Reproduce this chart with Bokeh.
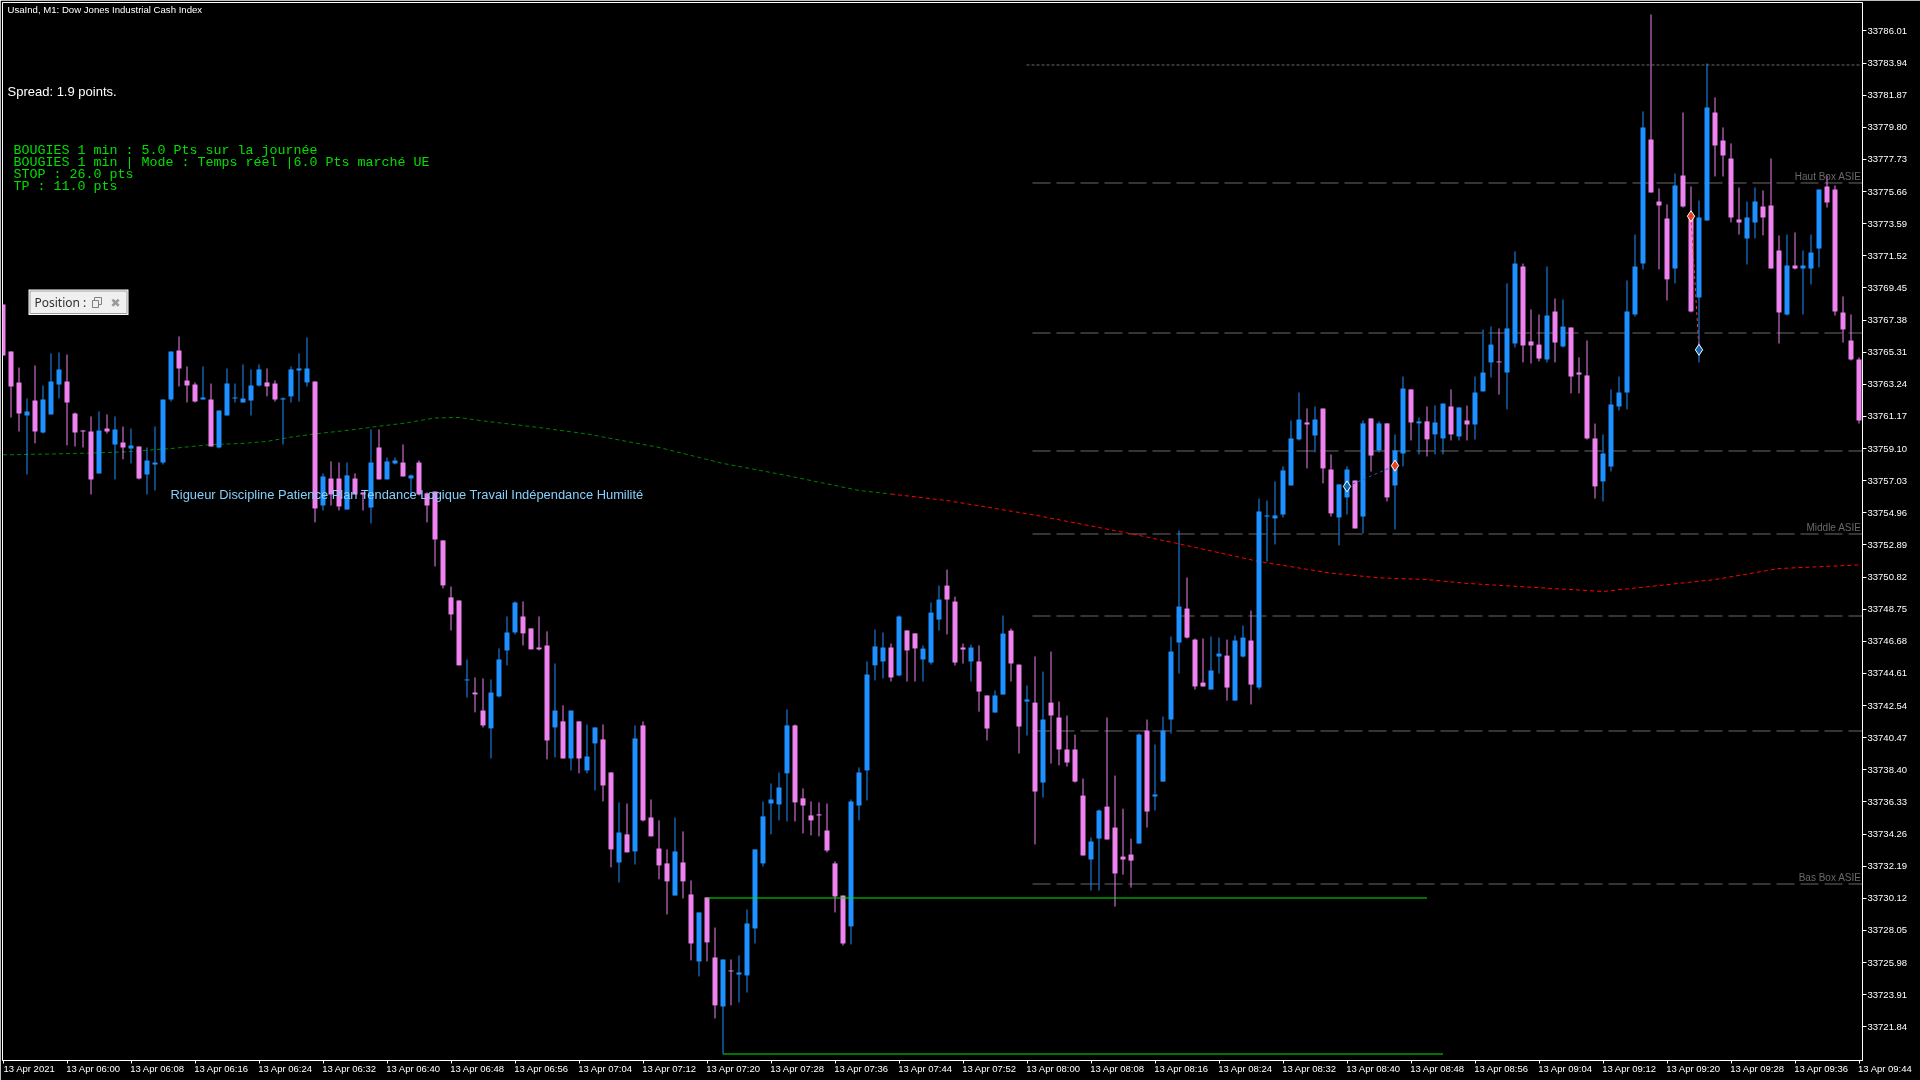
from bokeh.embed import file_html
from bokeh.resources import INLINE
from bokeh.models import Range1d, LinearAxis, FixedTicker, NumeralTickFormatter, ColumnDataSource
from bokeh.plotting import figure
from bokeh.core.properties import value
import numpy as np

PRICE_BASE = 33720.0

# Candle values in points above PRICE_BASE, one minute per candle
high = [48.38,45.36,44.32,42.33,44.45,43.16,45.23,45.29,45.16,41.42,
40.27,41.17,41.49,41.30,41.17,40.52,40.39,39.23,39.17,40.52,
42.26,45.36,46.32,44.39,43.36,44.39,43.29,41.55,44.26,43.29,
44.52,44.20,44.52,44.26,43.49,42.39,44.39,45.23,46.26,43.42,
37.50,38.27,38.20,38.20,37.50,36.27,40.33,40.33,38.52,38.52,
39.36,37.43,38.33,36.27,36.33,33.18,30.21,29.31,25.51,24.35,
24.29,24.22,26.22,28.28,29.25,29.25,27.51,28.28,27.32,25.25,
22.55,22.22,21.52,21.32,21.13,21.32,18.23,16.30,16.23,21.26,
21.52,16.49,15.14,13.27,15.33,14.43,11.27,9.21,10.18,8.24,
6.18,6.18,6.44,9.40,13.27,16.36,17.52,18.23,22.29,21.32,
17.20,16.36,16.30,16.23,12.50,10.30,16.49,18.55,25.38,27.44,
27.25,26.54,28.35,27.38,27.19,26.41,29.18,30.27,31.30,29.56,
26.54,26.47,26.41,23.19,23.51,28.34,27.50,25.18,23.83,25.70,
24.73,26.02,22.80,21.90,20.67,17.84,14.04,15.84,21.77,18.03,
15.90,13.97,20.74,21.64,20.03,21.83,26.99,33.82,30.79,26.86,
26.86,26.99,26.92,26.79,27.05,27.70,28.66,35.88,35.75,36.98,
37.95,40.91,42.71,41.68,41.81,41.68,38.72,36.79,37.95,37.04,
40.91,41.04,40.85,40.72,40.01,43.74,42.91,41.10,41.81,41.88,
42.00,42.91,41.75,41.87,43.74,46.77,46.96,46.84,49.74,51.80,
51.02,48.06,47.74,50.83,48.77,48.70,46.90,44.97,46.06,40.71,
40.01,42.91,43.74,49.93,52.89,60.82,67.07,55.86,54.83,56.82,
60.75,55.99,55.08,63.91,61.72,59.79,58.76,55.92,55.02,55.92,
55.73,57.79,52.83,52.89,53.02,51.86,52.89,55.79,56.69,56.05,
48.90,47.74,44.97]

low = [45.10,41.10,40.20,37.43,39.43,40.07,41.30,42.33,39.30,39.23,
39.17,36.14,37.50,40.07,37.11,38.40,38.14,37.11,36.14,36.40,
38.07,42.13,43.10,42.07,42.07,42.26,39.23,39.11,41.23,42.07,
42.07,41.23,43.10,42.46,42.13,39.36,42.07,42.13,43.10,34.34,
35.11,35.43,35.11,35.17,36.14,35.11,34.27,37.11,37.11,38.07,
37.30,36.08,36.08,34.34,31.50,30.09,27.38,25.13,23.06,22.10,
21.13,19.13,23.06,25.13,27.12,26.41,26.16,26.09,19.07,19.20,
19.13,18.36,18.17,18.17,17.07,16.36,12.11,11.14,13.08,12.30,
15.07,14.11,11.34,9.08,10.30,10.11,6.12,5.09,6.05,2.38,
0.10,3.22,3.41,4.05,7.21,12.17,14.24,15.14,15.07,15.07,
14.30,14.17,14.11,13.08,9.21,7.08,7.15,15.14,16.43,24.16,
24.29,24.09,24.42,24.09,24.09,24.09,25.18,27.37,27.12,25.12,
25.25,24.09,22.15,20.29,22.09,23.25,24.09,19.45,20.61,13.59,
16.61,18.80,18.68,18.61,17.58,12.88,10.62,10.62,13.91,9.59,
11.65,10.81,13.65,14.68,15.78,17.64,20.74,24.60,26.86,23.57,
23.77,23.57,24.60,22.86,22.86,25.63,22.61,23.57,31.82,32.92,
34.66,36.72,39.62,37.82,38.85,36.85,34.72,32.86,34.85,33.95,
33.63,37.62,38.85,35.69,33.89,37.95,39.62,38.72,38.59,38.72,
38.72,39.62,39.62,39.62,39.68,42.78,43.68,42.58,41.62,45.61,
44.65,44.58,44.71,44.65,44.65,45.61,42.65,42.65,39.68,35.88,
35.69,37.62,41.55,41.62,47.61,50.64,55.60,50.64,48.64,49.74,
54.63,47.87,44.65,53.79,56.63,56.63,53.67,52.89,50.96,52.64,
52.83,50.70,45.87,47.67,50.64,47.74,49.67,50.77,54.63,47.67,
45.93,44.77,40.71]

open_ = [48.38,45.36,43.36,41.23,42.20,40.14,41.30,43.23,43.42,41.36,
40.27,40.20,37.50,40.39,39.36,39.49,39.11,39.23,37.43,38.07,
38.20,42.26,45.42,43.49,43.23,42.26,42.26,39.17,41.23,42.33,
42.07,42.20,43.16,43.36,43.29,42.26,42.46,44.13,43.36,43.42,
35.43,37.17,37.17,35.17,37.17,36.27,35.30,39.17,37.11,38.14,
38.20,37.17,38.20,36.21,36.33,33.18,29.51,29.31,24.16,23.38,
22.22,21.07,23.13,26.09,27.25,28.28,27.51,26.28,26.41,21.13,
21.52,19.13,21.52,18.36,20.10,20.36,18.23,12.43,14.24,13.14,
21.26,15.33,13.33,12.37,10.30,12.43,10.37,6.05,10.18,6.31,
3.15,5.47,5.21,5.15,8.18,12.37,16.23,16.17,18.17,21.26,
16.56,15.46,15.53,14.49,12.37,10.30,8.31,16.10,18.36,25.13,
25.38,26.28,24.48,27.38,27.19,25.51,25.31,28.08,30.27,29.24,
26.28,25.38,25.38,23.19,22.09,23.25,27.37,25.18,22.80,22.73,
17.58,22.73,21.77,19.71,19.71,16.74,12.62,13.97,16.03,14.68,
12.81,12.94,13.65,20.93,16.68,17.64,21.64,26.60,28.79,26.79,
24.02,23.57,25.70,25.76,22.86,25.70,26.73,23.70,34.72,34.60,
34.85,36.72,39.69,40.78,39.94,41.68,37.75,34.66,35.95,37.04,
34.72,41.04,38.98,40.72,36.72,38.78,42.91,40.72,40.85,40.01,
39.75,41.81,39.88,40.91,40.65,42.78,44.65,44.71,44.00,45.87,
50.83,46.00,45.80,44.84,47.93,45.68,46.90,44.00,43.81,39.75,
36.98,37.94,41.81,42.71,47.74,51.02,59.01,55.02,53.92,50.70,
56.69,54.12,48.83,53.79,60.75,58.95,57.79,53.86,52.64,53.67,
54.70,54.76,51.86,47.74,50.90,50.70,50.70,51.99,55.99,55.79,
47.87,46.06,44.84]

close = [45.10,43.10,41.36,41.49,40.20,42.26,43.42,44.20,42.07,40.14,
40.20,37.11,40.27,40.20,40.33,39.17,39.30,37.17,38.33,38.20,
42.26,45.36,44.26,43.16,42.13,42.39,39.23,41.55,43.29,42.39,
42.33,43.16,44.20,43.10,42.26,42.33,44.20,44.26,44.26,35.24,
37.30,36.14,35.37,37.37,36.14,36.14,38.20,37.11,38.27,38.33,
37.30,37.37,36.14,35.43,33.24,30.28,28.41,25.13,24.22,23.26,
21.26,23.38,25.51,27.25,29.18,27.19,26.16,26.16,20.29,22.22,
19.13,22.22,19.13,19.26,21.13,17.39,13.27,14.36,13.08,20.42,
15.14,14.11,12.24,11.21,13.14,11.21,7.21,9.21,7.28,3.22,
6.18,5.41,5.34,8.50,13.27,15.40,16.49,17.26,21.26,16.30,
16.10,15.14,15.46,13.20,10.24,7.21,16.36,18.23,24.54,26.35,
26.28,24.35,28.28,26.09,26.22,26.21,28.53,29.37,29.37,25.31,
26.15,26.28,23.44,21.06,23.19,27.18,25.25,21.19,22.93,17.00,
21.64,21.90,19.71,18.87,17.64,12.88,13.78,15.78,13.91,11.72,
12.62,12.55,20.67,15.71,16.81,20.93,26.02,28.92,26.92,23.77,
23.77,24.80,25.89,23.70,26.73,26.92,23.89,35.05,34.79,34.79,
37.69,39.75,40.97,40.65,40.97,37.82,34.92,36.79,37.75,33.95,
40.72,38.65,40.72,35.95,38.98,42.97,40.78,40.85,39.69,40.78,
42.00,40.01,41.75,40.65,42.71,44.00,45.80,44.65,46.84,51.02,
45.74,45.74,44.90,47.67,45.93,46.96,43.74,43.87,39.75,36.66,
38.78,41.94,42.71,47.93,50.83,59.79,55.60,54.76,50.00,56.05,
54.70,47.93,53.99,61.08,58.63,57.98,53.99,53.67,53.99,55.02,
53.99,50.70,47.87,50.90,50.70,50.90,51.73,55.79,54.95,47.93,
46.77,44.84,40.91]

# Moving average readings: candle index and points above base
ma_up_idx = [0,1,6,11,15,21,26,30,33,36,39,44,47,50,54,57,60,66,73,82,90,98,107,111]
ma_up_val = [38.70,38.70,38.75,38.81,38.88,39.10,39.36,39.43,39.56,39.84,40.04,40.33,40.54,40.72,41.07,41.10,40.88,40.52,40.04,39.17,38.14,37.36,36.40,36.17]
ma_dn_idx = [111,118,129,141,147,157,166,172,178,183,200,214,222,232]
ma_dn_val = [36.17,35.75,34.81,33.61,32.96,31.82,31.07,30.77,30.66,30.41,29.89,30.66,31.37,31.60]

# Horizontal levels in points above base
level_dotted = 63.813
levels_dashed = [56.210,46.545,38.942,33.594,28.310,20.901,11.042]
level_labels = ["Haut Box ASIE","Middle ASIE","Bas Box ASIE"]
level_label_vals = [56.21,33.594,11.042]
green_levels = [10.140,0.088]
green_start = [88,90]
green_end = [178,180]

# Closed trades: candle index and points above base
trade_a_idx = [211,212]
trade_a_val = [54.07,45.46]
trade_b_idx = [168,174]
trade_b_val = [36.66,38.00]

price_ticks = [33786.01,33783.94,33781.87,33779.80,33777.73,33775.66,33773.59,33771.52,33769.45,33767.38,
33765.31,33763.24,33761.17,33759.10,33757.03,33754.96,33752.89,33750.82,33748.75,33746.68,33744.61,
33742.54,33740.47,33738.40,33736.33,33734.26,33732.19,33730.12,33728.05,33725.98,33723.91,33721.84]
time_labels = ["13 Apr 2021","13 Apr 06:00","13 Apr 06:08","13 Apr 06:16","13 Apr 06:24","13 Apr 06:32","13 Apr 06:40",
"13 Apr 06:48","13 Apr 06:56","13 Apr 07:04","13 Apr 07:12","13 Apr 07:20","13 Apr 07:28","13 Apr 07:36","13 Apr 07:44",
"13 Apr 07:52","13 Apr 08:00","13 Apr 08:08","13 Apr 08:16","13 Apr 08:24","13 Apr 08:32","13 Apr 08:40","13 Apr 08:48",
"13 Apr 08:56","13 Apr 09:04","13 Apr 09:12","13 Apr 09:20","13 Apr 09:28","13 Apr 09:36","13 Apr 09:44"]

BLUE = "#1E90FF"
PINK = "#EE82EE"
GREY = "#696969"
LIME = "#00E600"

FRAME_W, FRAME_H = 1860, 1058
X0, X1 = -0.0625, 232.4375   # candle index at left / right frame edge
Y1, Y0 = 33787.84, 33719.67  # price at top / bottom frame edge

def px_x(px):  # overlay helper: page pixel -> candle index
    return X0 + (px - 2) * (X1 - X0) / FRAME_W

def px_y(py):  # overlay helper: page pixel -> price
    return Y1 - (py - 2) * (Y1 - Y0) / FRAME_H

p = figure(frame_width=FRAME_W, frame_height=FRAME_H, output_backend="svg", toolbar_location=None,
           x_range=Range1d(X0, X1), y_range=Range1d(Y0, Y1),
           x_axis_location=None, y_axis_location=None,
           min_border_left=2, min_border_top=2, min_border_right=58, min_border_bottom=20,
           background_fill_color="black", border_fill_color="black",
           outline_line_color="white", outline_line_width=1)
p.grid.visible = False
p.styles = {"position": "fixed", "left": "0px", "top": "0px"}

AXIS_FONT = "Liberation Sans"
yaxis = LinearAxis(ticker=FixedTicker(ticks=price_ticks), formatter=NumeralTickFormatter(format="0.00"),
                   axis_line_color="white", major_tick_line_color="white", major_tick_out=4, major_tick_in=0,
                   minor_tick_line_color=None, major_label_text_color="white", major_label_text_font=AXIS_FONT,
                   major_label_text_font_size="9.5px", major_label_standoff=1)
p.add_layout(yaxis, "right")

tick_idx = list(range(0, 233, 8))
xaxis = LinearAxis(ticker=FixedTicker(ticks=tick_idx), axis_line_color="white", major_tick_line_color="white",
                   major_tick_out=3, major_tick_in=0, minor_tick_line_color=None,
                   major_label_overrides={i: "" for i in tick_idx},
                   major_label_text_font_size="1px", major_label_standoff=0)
p.add_layout(xaxis, "below")

# Time labels start at their tick: an axis on a range shifted by half a label.
# The last label would fall past the frame, so it hangs on the last tick the shifted range
# still holds and is pushed right with non-breaking spaces.
LABEL_SHIFT = 3.3
p.extra_x_ranges = {"labels": Range1d(X0 - LABEL_SHIFT, X1 - LABEL_SHIFT)}
label_ticks = tick_idx[:-1] + [229]
label_texts = time_labels[:-1] + ["\u00a0" * 18 + time_labels[-1]]
xlabels = LinearAxis(x_range_name="labels", ticker=FixedTicker(ticks=label_ticks),
                     major_label_overrides=dict(zip(label_ticks, label_texts)),
                     axis_line_color=None, major_tick_line_color=None, minor_tick_line_color=None,
                     major_label_text_color="white", major_label_text_font=AXIS_FONT,
                     major_label_text_font_size="9.5px", major_label_standoff=-7)
p.add_layout(xlabels, "below")

idx = np.arange(len(high))
h = PRICE_BASE + np.array(high)
l = PRICE_BASE + np.array(low)
o = PRICE_BASE + np.array(open_)
c = PRICE_BASE + np.array(close)
up = c >= o
colors = [BLUE if u else PINK for u in up]
src = ColumnDataSource(dict(x=idx, h=h, l=l, top=np.maximum(o, c), bottom=np.minimum(o, c), color=colors))

# Grey levels, under the candles
p.segment(x0=px_x(1026), x1=X1, y0=PRICE_BASE + level_dotted, y1=PRICE_BASE + level_dotted,
          line_color=GREY, line_width=1, line_dash="3 2")
lev = PRICE_BASE + np.array(levels_dashed)
p.segment(x0=[px_x(1032)] * len(lev), x1=[X1] * len(lev), y0=lev, y1=lev,
          line_color=GREY, line_width=1, line_dash="18 6")

# Moving average
p.line(np.array(ma_up_idx), PRICE_BASE + np.array(ma_up_val), line_color="#008000", line_width=1, line_dash="4 3")
p.line(np.array(ma_dn_idx), PRICE_BASE + np.array(ma_dn_val), line_color="#FF0000", line_width=1, line_dash="4 3")

# Candles
p.segment(x0="x", x1="x", y0="l", y1="h", line_color="color", line_width=1, source=src)
p.vbar(x="x", width=5 / 8, top="top", bottom="bottom", fill_color="color", line_color=None, source=src)

# Green levels
for y_, s_, e_ in zip(green_levels, green_start, green_end):
    p.segment(x0=s_, x1=e_, y0=PRICE_BASE + y_, y1=PRICE_BASE + y_, line_color=LIME, line_width=1)

# Trades
p.line(np.array(trade_a_idx), PRICE_BASE + np.array(trade_a_val), line_color="#E8401C", line_width=1, line_dash="3 3")
p.line(np.array(trade_b_idx), PRICE_BASE + np.array(trade_b_val), line_color="#1066B4", line_width=1, line_dash="3 3")
p.scatter(x=[trade_a_idx[0], trade_b_idx[1]], y=[PRICE_BASE + trade_a_val[0], PRICE_BASE + trade_b_val[1]],
          marker="diamond", size=11, fill_color="#E8401C", line_color="white", line_width=1)
p.scatter(x=[trade_a_idx[1], trade_b_idx[0]], y=[PRICE_BASE + trade_a_val[1], PRICE_BASE + trade_b_val[0]],
          marker="diamond", size=11, fill_color="#1066B4", line_color="white", line_width=1)

def txt(px, py, s, color, size, font, align="left"):
    p.text(x=[px_x(px)], y=[px_y(py)], text=[s], text_color=color, text_font_size=size,
           text_font=value(font), text_baseline="middle", text_align=align)

for s_, v_ in zip(level_labels, level_label_vals):
    p.text(x=[px_x(1861)], y=[PRICE_BASE + v_ + 0.44], text=[s_], text_color=GREY, text_font_size="10px",
           text_font=value("Liberation Sans"), text_baseline="middle", text_align="right")

txt(7, 9, "UsaInd, M1:  Dow Jones Industrial Cash Index", "white", "9.6px", "Liberation Sans")
txt(7, 91, "Spread: 1.9 points.", "white", "13px", "Liberation Sans")
status = ["BOUGIES 1 min : 5.0 Pts sur la journée", "BOUGIES 1 min | Mode : Temps réel |6.0 Pts marché UE",
          "STOP : 26.0 pts", "TP : 11.0 pts"]
for k, s_ in enumerate(status):
    txt(13, 150 + 12 * k, s_, "#00E000", "13.33px", "Liberation Mono")
txt(170, 494, "Rigueur Discipline Patience Plan Tendance Logique Travail Indépendance Humilité", "#87CEFA", "12.9px", "Liberation Sans")

# Position panel
p.quad(left=[px_x(28)], right=[px_x(128)], top=[px_y(289)], bottom=[px_y(314.5)], fill_color="white", line_color=None)
p.quad(left=[px_x(29.5)], right=[px_x(126.5)], top=[px_y(290.5)], bottom=[px_y(313)], fill_color="#F0F0F0", line_color="#A0A0A0", line_width=1)
txt(34, 302, "Position :", "#303030", "12px", "Noto Sans")
p.quad(left=[px_x(94)], right=[px_x(101)], top=[px_y(297)], bottom=[px_y(304)], fill_color=None, line_color="#808080", line_width=1)
p.quad(left=[px_x(92)], right=[px_x(98)], top=[px_y(300)], bottom=[px_y(307)], fill_color="#F0F0F0", line_color="#808080", line_width=1)
txt(115, 302, "✖", "#9A9A9A", "12px", "DejaVu Sans", "center")

open("out.html", "w").write(file_html(p, INLINE))
